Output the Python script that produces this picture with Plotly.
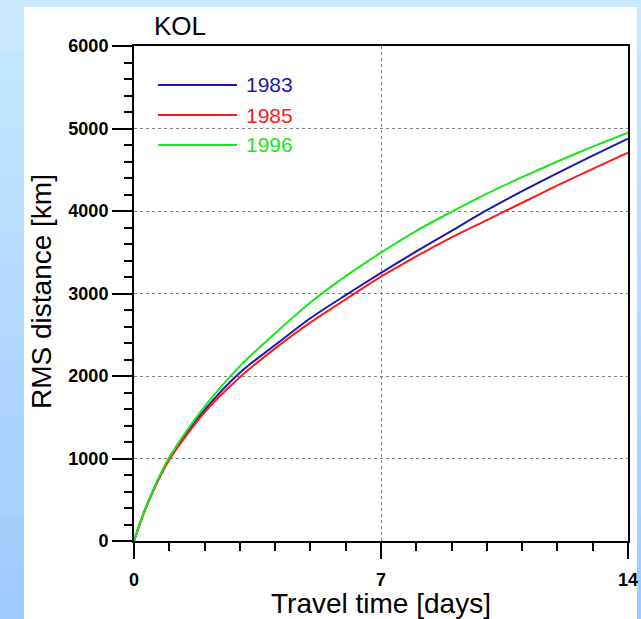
import plotly.graph_objects as go

# ---- data ----
days = [0, 0.25, 0.5, 0.75, 1, 1.5, 2, 3, 4, 5, 6, 7, 8, 9, 10, 11, 12, 13, 14]
rms_1983 = [0, 310, 570, 800, 1000, 1310, 1590, 2040, 2376, 2700, 2980, 3250, 3510, 3760, 4010, 4240, 4460, 4670, 4876]
rms_1985 = [0, 305, 565, 790, 985, 1290, 1560, 1985, 2335, 2650, 2930, 3204, 3450, 3680, 3890, 4100, 4310, 4510, 4707]
rms_1996 = [0, 310, 575, 810, 1015, 1340, 1630, 2120, 2517, 2890, 3210, 3495, 3760, 3990, 4210, 4410, 4600, 4780, 4950]
series_names = ["1983", "1985", "1996"]
series_colors = ["#1a1aa8", "#ff1a1a", "#1ae61a"]
x_ticks = [0, 7, 14]
y_ticks = [0, 1000, 2000, 3000, 4000, 5000, 6000]

W, H = 641, 619
L, R, T, B = 134, 13, 46, 78
pw, ph = W - L - R, H - T - B

def px(x):
    return (x - L) / pw

def py(y):
    return (H - B - y) / ph

FONT = "Liberation Sans, Arial, sans-serif"

fig = go.Figure()
for name, vals, col in zip(series_names, [rms_1983, rms_1985, rms_1996], series_colors):
    fig.add_trace(go.Scatter(x=days, y=vals, mode="lines", name=name,
                             line=dict(color=col, width=2, shape="spline", smoothing=0.8),
                             showlegend=False, hoverinfo="skip"))

shapes = []
# background gradient bands
top_c = (200, 232, 255)
bot_c = (158, 203, 255)
n = 24
for i in range(n):
    f = i / (n - 1)
    c = tuple(int(round(top_c[k] + (bot_c[k] - top_c[k]) * f)) for k in range(3))
    y0p = H * i / n
    y1p = H * (i + 1) / n
    shapes.append(dict(type="rect", xref="paper", yref="paper",
                       x0=px(0), x1=px(W), y0=py(y1p + 1), y1=py(y0p),
                       fillcolor="rgb(%d,%d,%d)" % c, line=dict(width=0), layer="below"))
shapes.append(dict(type="rect", xref="paper", yref="paper",
                   x0=px(24), x1=px(637), y0=py(H + 2), y1=py(7),
                   fillcolor="white", line=dict(width=0), layer="below"))
# legend lines
leg_y = [85, 115, 145]
for yy, col in zip(leg_y, series_colors):
    shapes.append(dict(type="line", xref="paper", yref="paper",
                       x0=px(158), x1=px(237), y0=py(yy), y1=py(yy),
                       line=dict(color=col, width=2)))

annotations = []
for yy, name, col in zip(leg_y, series_names, series_colors):
    annotations.append(dict(xref="paper", yref="paper", x=px(244), y=py(yy),
                            xanchor="left", yanchor="middle", text=name, showarrow=False,
                            font=dict(family=FONT, size=21, color=col)))
annotations.append(dict(xref="paper", yref="paper", x=px(152), y=py(26),
                        xanchor="left", yanchor="middle", text="KOL", showarrow=False,
                        font=dict(family=FONT, size=26, color="black")))
annotations.append(dict(xref="paper", yref="paper", x=px(381), y=py(603),
                        xanchor="center", yanchor="middle", text="Travel time [days]", showarrow=False,
                        font=dict(family=FONT, size=28, color="black")))
annotations.append(dict(xref="paper", yref="paper", x=px(41), y=py(292),
                        xanchor="center", yanchor="middle", text="RMS distance [km]", showarrow=False,
                        textangle=-90,
                        font=dict(family=FONT, size=28, color="black")))

fig.update_layout(
    width=W, height=H,
    margin=dict(l=L, r=R, t=T, b=B, pad=0, autoexpand=False),
    paper_bgcolor="rgb(200,232,255)",
    plot_bgcolor="white",
    shapes=shapes,
    annotations=annotations,
    showlegend=False,
)
fig.update_xaxes(range=[0, 14], tickvals=x_ticks, ticktext=[str(v) for v in x_ticks],
                 automargin=False,
                 ticks="outside", ticklen=16, tickwidth=1.5, tickcolor="black",
                 minor=dict(dtick=1, ticks="outside", ticklen=8, tickwidth=1.5, tickcolor="black", showgrid=False),
                 showline=True, linecolor="black", linewidth=2, mirror=True,
                 showgrid=True, gridcolor="#808080", griddash="dot", gridwidth=1,
                 zeroline=False, ticklabelstandoff=5,
                 tickfont=dict(family=FONT, size=18, color="black", weight="bold"))
fig.update_yaxes(range=[0, 6000], tickvals=y_ticks, ticktext=[str(v) for v in y_ticks],
                 automargin=False,
                 ticks="outside", ticklen=20, tickwidth=1.5, tickcolor="black",
                 minor=dict(dtick=200, ticks="outside", ticklen=8, tickwidth=1.5, tickcolor="black", showgrid=False),
                 showline=True, linecolor="black", linewidth=2, mirror=True,
                 showgrid=True, gridcolor="#808080", griddash="dot", gridwidth=1,
                 zeroline=False,
                 tickfont=dict(family=FONT, size=18, color="black", weight="bold"))

fig.write_html("out.html", config={"displayModeBar": False},
               post_script="document.body.style.margin='0';document.body.style.padding='0';document.body.style.overflow='hidden';")
